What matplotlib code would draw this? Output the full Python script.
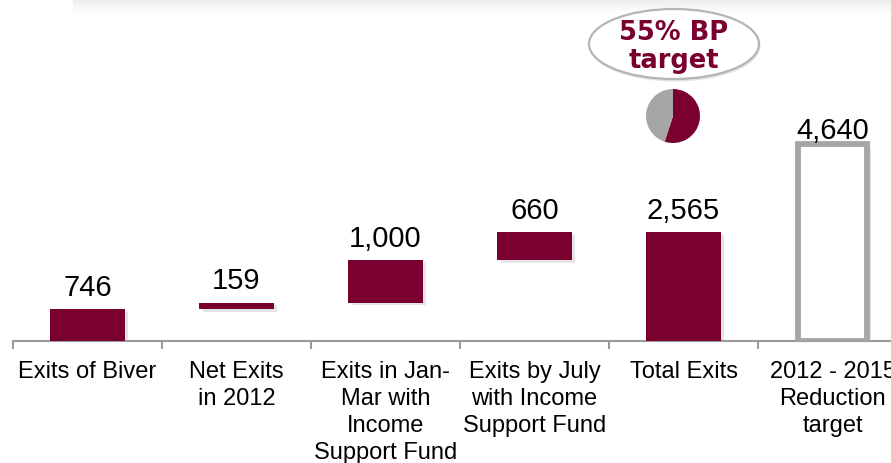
import matplotlib
matplotlib.use("Agg")
import matplotlib.pyplot as plt
import matplotlib.patheffects as pe
from matplotlib.patches import Ellipse
import numpy as np

# --- data -------------------------------------------------------------
categories = [
    "Exits of Biver",
    "Net Exits\nin 2012",
    "Exits in Jan-\nMar with\nIncome\nSupport Fund",
    "Exits by July\nwith Income\nSupport Fund",
    "Total Exits",
    "2012 - 2015\nReduction\ntarget",
]
step_values = [746, 159, 1000, 660]   # incremental exits
total_exits = 2565
reduction_target = 4640
bp_share = [55, 45]                   # share of business-plan target reached

MAROON = "#7A0030"
GREY = "#A6A6A6"
AXIS_GREY = "#9A9A9A"

plt.rcParams["font.family"] = ["Liberation Sans", "DejaVu Sans"]

W, H = 891, 464
fig = plt.figure(figsize=(W / 100, H / 100), dpi=100)

# main axes: baseline at y=342px, category slots 149px wide starting at x=13px
base_px = 342
px_per_unit = 0.0425
ymax = 6000
ax = fig.add_axes([13 / W, (H - base_px) / H, 6 * 149 / W, ymax * px_per_unit / H])
ax.set_xlim(-0.5, 5.5)
ax.set_ylim(0, ymax)

x = np.arange(len(categories))
bottoms = np.concatenate([[0], np.cumsum(step_values)[:-1]])
shadow = [pe.SimplePatchShadow(offset=(2.5, -2), shadow_rgbFace="#999999", alpha=0.25), pe.Normal()]

bars = ax.bar(x[:4], step_values, bottom=bottoms, width=0.5, color=MAROON, zorder=3)
tot = ax.bar(x[4], total_exits, width=0.5, color=MAROON, zorder=3)
tgt = ax.bar(x[5], reduction_target, width=0.465, facecolor="white", edgecolor=GREY,
             linewidth=4.2, zorder=3)
for p in list(bars) + list(tot) + list(tgt):
    p.set_path_effects(shadow)

# value labels
tops = list(bottoms + np.array(step_values)) + [total_exits, reduction_target]
vals = step_values + [total_exits, reduction_target]
offsets = [6, 6, 6, 6, 6, 0]
for xi, top, v, off in zip(x, tops, vals, offsets):
    ax.annotate(f"{v:,}", (xi, top), xytext=(0, off), textcoords="offset points",
                ha="center", va="bottom", fontsize=21, color="black", zorder=5)

# axis styling
for s in ["left", "right", "top"]:
    ax.spines[s].set_visible(False)
ax.spines["bottom"].set_color(AXIS_GREY)
ax.spines["bottom"].set_linewidth(1.5)
ax.set_yticks([])
ax.set_xticks(x)
ax.set_xticklabels(categories, fontsize=17, linespacing=1.3)
ax.tick_params(axis="x", which="major", length=0, pad=13.5)
ax.set_xticks(np.arange(-0.5, 6.0, 1.0), minor=True)
ax.tick_params(axis="x", which="minor", length=6, width=1.5, color=AXIS_GREY, direction="out")
ax.patch.set_alpha(0)

# overlay in pixel coordinates for the header band and the callout
ov = fig.add_axes([0, 0, 1, 1], zorder=-1)
ov.set_xlim(0, W)
ov.set_ylim(H, 0)
ov.axis("off")
grad = np.linspace(0.92, 1.0, 50).reshape(-1, 1)
ov.imshow(np.repeat(grad, 10, axis=1), cmap="gray", vmin=0, vmax=1,
          extent=(73, W, 15, 0), aspect="auto")

ov2 = fig.add_axes([0, 0, 1, 1], zorder=4)
ov2.set_xlim(0, W)
ov2.set_ylim(H, 0)
ov2.axis("off")
ov2.add_patch(Ellipse((675, 47), 171, 71, facecolor="#D0D0D0", edgecolor="none", alpha=0.6))
ov2.add_patch(Ellipse((674, 45), 170, 70, facecolor="white", edgecolor="#B5B5B5", linewidth=1.6))
ov2.text(674, 47, "55% BP\ntarget", ha="center", va="center", fontsize=18.5,
         fontweight="bold", color=MAROON, family=["DejaVu Sans"], linespacing=1.12)

# small pie: share of target reached
r = 27
pax = fig.add_axes([(673 - r) / W, (H - 117 - r) / H, 2 * r / W, 2 * r / H], zorder=4)
pax.pie(bp_share, colors=[MAROON, GREY], startangle=90, counterclock=False)
pax.set_xlim(-1, 1)
pax.set_ylim(-1, 1)
pax.set_aspect("equal")

fig.savefig("out.png", dpi=100)
